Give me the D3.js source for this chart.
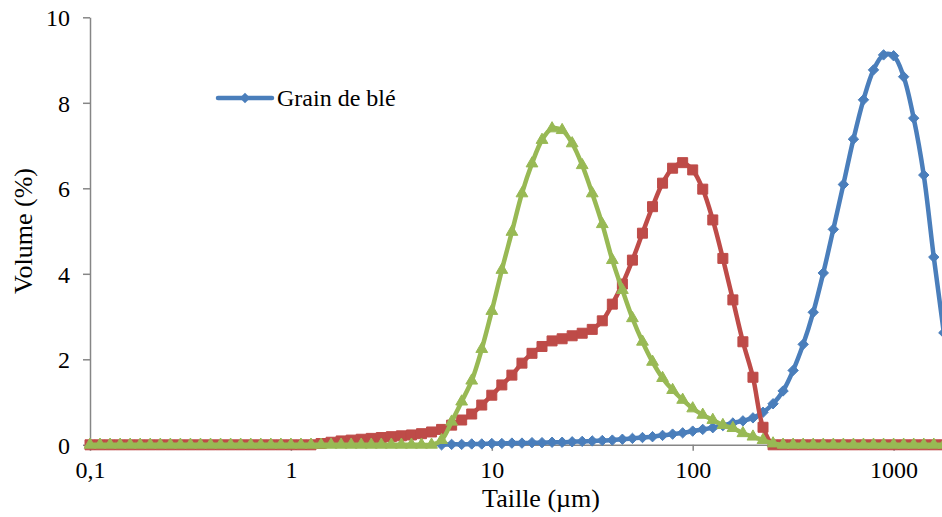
<!DOCTYPE html>
<html><head><meta charset="utf-8">
<script src="https://cdn.jsdelivr.net/npm/d3@7"></script>
<style>
html,body{margin:0;padding:0;background:#fff;overflow:hidden}
text{font-family:"Liberation Serif","Times New Roman",serif;fill:#000}
</style></head>
<body><svg id="c" width="942" height="517"></svg>
<script>
// Particle sizes (µm), Mastersizer classes
const sizes = [0.1,0.1122,0.1259,0.1413,0.1585,0.1778,0.1995,0.2239,0.2512,0.2818,0.3162,0.3548,0.3981,0.4467,0.5012,0.5623,0.631,0.7079,0.7943,0.8913,
1,1.122,1.259,1.413,1.585,1.778,1.995,2.239,2.512,2.818,3.162,3.548,3.981,4.467,5.012,5.623,6.31,7.079,7.943,8.913,
10,11.22,12.59,14.13,15.85,17.78,19.95,22.39,25.12,28.18,31.62,35.48,39.81,44.67,50.12,56.23,63.1,70.79,79.43,89.13,
100,112.2,125.9,141.3,158.5,177.8,199.5,223.9,251.2,281.8,316.2,354.8,398.1,446.7,501.2,562.3,631,707.9,794.3,891.3,
1000,1122,1259,1413,1585,1778,1995];

// Series 1: Grain de blé (blue)
const grainBle = [null,null,null,null,null,null,null,null,null,null,null,null,null,null,null,null,null,null,null,null,
null,null,null,null,null,null,null,null,null,null,null,null,null,null,null,0.00,0.01,0.01,0.02,0.02,
0.03,0.03,0.04,0.04,0.05,0.05,0.06,0.06,0.07,0.08,0.09,0.10,0.11,0.13,0.15,0.17,0.19,0.22,0.25,0.28,
0.32,0.36,0.40,0.45,0.51,0.56,0.63,0.76,0.96,1.26,1.74,2.35,3.10,4.02,5.04,6.09,7.15,8.07,8.77,9.12,
9.10,8.61,7.64,6.31,4.39,2.62,1.00];

// Series 2 (red)
const serie2 = [0,0,0,0,0,0,0,0,0,0,0,0,0,0,0,0,0,0,0,0,
0,0,0,0.03,0.06,0.09,0.11,0.13,0.15,0.17,0.19,0.21,0.23,0.26,0.30,0.36,0.46,0.58,0.72,0.93,
1.16,1.40,1.63,1.91,2.14,2.30,2.43,2.48,2.55,2.61,2.70,2.90,3.29,3.76,4.32,4.95,5.57,6.12,6.47,6.60,
6.43,5.98,5.26,4.36,3.39,2.41,1.58,0.41,0,0,0,0,0,0,0,0,0,0,0,0,
0,0,0,0,0,0,0];

// Series 3 (green)
const serie3 = [0,0,0,0,0,0,0,0,0,0,0,0,0,0,0,0,0,0,0,0,
0,0,0,0,0,0,0,0,0,0,0,0,0,0,0,0.11,0.54,1.01,1.50,2.24,
3.13,4.09,4.98,5.88,6.58,7.13,7.40,7.36,7.05,6.54,5.88,5.16,4.32,3.62,2.96,2.41,1.94,1.56,1.28,1.05,
0.85,0.70,0.58,0.46,0.39,0.27,0.19,0.11,0.03,0,0,0,0,0,0,0,0,0,0,0,
0,0,0,0,0,0,0];

const xTicks = [0.1, 1, 10, 100, 1000];
const xTickLabels = ["0,1", "1", "10", "100", "1000"];
const yTicks = [0, 2, 4, 6, 8, 10];
const legendLabel = "Grain de blé";
const xTitle = "Taille (µm)";
const yTitle = "Volume (%)";

const svg = d3.select("#c");
const x = d3.scaleLog().domain([0.1, 10000]).range([90, 1094.5]);
const y = d3.scaleLinear().domain([0, 10]).range([444.8, 17.3]);
const axisCol = "#868686";

// axes
const gx = svg.append("g").attr("transform", "translate(0,444.8)")
  .call(d3.axisBottom(x).tickValues(xTicks).tickFormat((d,i)=>xTickLabels[i]).tickSize(6).tickSizeOuter(0));
const gy = svg.append("g").attr("transform", "translate(90,0)")
  .call(d3.axisLeft(y).tickValues(yTicks).tickFormat(d=>d).tickSize(7).tickSizeOuter(0));
[gx, gy].forEach(g => {
  g.select(".domain").attr("stroke", axisCol).attr("stroke-width", 1.5);
  g.selectAll(".tick line").attr("stroke", axisCol).attr("stroke-width", 1.5);
  g.selectAll(".tick text").attr("font-size", 24).attr("font-family", "Liberation Serif").attr("fill", "#000");
});
gx.selectAll(".tick text").attr("y", 16).attr("dy", "0.71em");
gy.selectAll(".tick text").attr("x", -20).attr("dy", "0.35em");

// titles
svg.append("text").attr("x", 541).attr("y", 507).attr("text-anchor", "middle")
  .attr("font-size", 26).text(xTitle);
svg.append("text").attr("transform", "translate(32,231) rotate(-90)").attr("text-anchor", "middle")
  .attr("font-size", 26).text(yTitle);

const diamond = s => `M0,${-s}L${s},0L0,${s}L${-s},0Z`;
const series = [
  {vals: grainBle, color: "#4a7ebb", marker: diamond(5.2)},
  {vals: serie2, color: "#be4b48", marker: d3.symbol(d3.symbolSquare, 100)()},
  {vals: serie3, color: "#98b954", marker: d3.symbol(d3.symbolTriangle, 60)()}
];

const line = d3.line()
  .defined(d => d[1] != null)
  .x(d => x(d[0])).y(d => y(d[1]))
  .curve(d3.curveCatmullRom.alpha(0.5));

series.forEach(s => {
  const pts = sizes.map((v,i) => [v, s.vals[i]]);
  const g = svg.append("g");
  g.append("path").datum(pts).attr("d", line)
    .attr("fill", "none").attr("stroke", s.color).attr("stroke-width", 4.5)
    .attr("stroke-linejoin", "round").attr("stroke-linecap", "round");
  g.selectAll("path.m").data(pts.filter(d => d[1] != null)).join("path").attr("class", "m")
    .attr("transform", d => `translate(${x(d[0])},${y(d[1])})`)
    .attr("d", s.marker).attr("fill", s.color).attr("stroke", s.color).attr("stroke-width", 1);
});

// legend
const lg = svg.append("g");
lg.append("line").attr("x1", 218).attr("x2", 272).attr("y1", 98).attr("y2", 98)
  .attr("stroke", "#4a7ebb").attr("stroke-width", 4.5).attr("stroke-linecap", "round");
lg.append("path").attr("transform", "translate(245,98)").attr("d", diamond(5.2)).attr("fill", "#4a7ebb");
lg.append("text").attr("x", 277).attr("y", 106).attr("font-size", 24).text(legendLabel);
</script></body></html>
